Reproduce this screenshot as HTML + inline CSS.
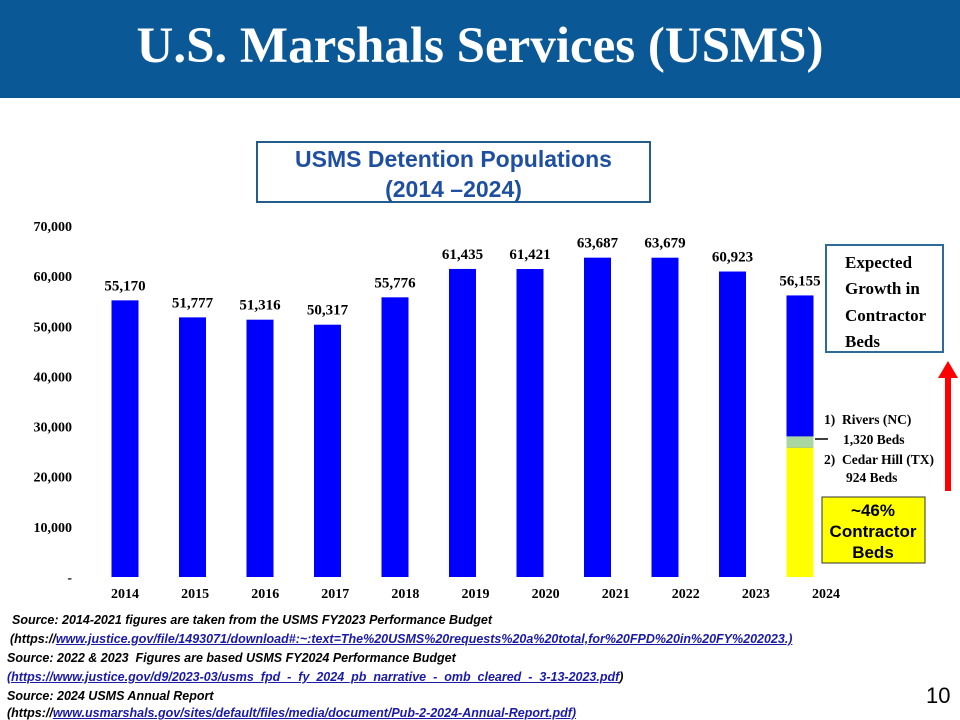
<!DOCTYPE html>
<html><head><meta charset="utf-8"><style>
body{margin:0;width:960px;height:720px;background:#fff;position:relative;overflow:hidden;font-family:"Liberation Sans",sans-serif}
.hdr{position:absolute;left:0;top:0;width:960px;height:98px;background:#0b5896;color:#fff;font:bold 51px "Liberation Serif",serif;text-align:center;line-height:92px}
.ct{position:absolute;left:256px;top:141px;width:395px;height:62px;border:2px solid #235d8c;color:#1f4fa0;font:bold 23px "Liberation Sans",sans-serif;text-align:center;line-height:30px;padding-top:1px;box-sizing:border-box}
.src{position:absolute;font:italic bold 12.5px "Liberation Sans",sans-serif;color:#000;white-space:nowrap}
.src a{color:#1a1aa6;text-decoration:underline}
</style></head><body>
<div class="hdr">U.S. Marshals Services (USMS)</div>
<div class="ct">USMS Detention Populations<br>(2014 –2024)</div>
<svg id="chart" width="960" height="720" style="position:absolute;left:0;top:0"></svg>
<div class="src" style="left:12px;top:613px">Source: 2014-2021 figures are taken from the USMS FY2023 Performance Budget</div>
<div class="src" style="left:10px;top:632px">(https://<a>www.justice.gov/file/1493071/download#:~:text=The%20USMS%20requests%20a%20total,for%20FPD%20in%20FY%202023.)</a></div>
<div class="src" style="left:7px;top:651px">Source: 2022 &amp; 2023&nbsp; Figures are based USMS FY2024 Performance Budget</div>
<div class="src" style="left:7px;top:670px"><a>(https://www.justice.gov/d9/2023-03/usms_fpd_-_fy_2024_pb_narrative_-_omb_cleared_-_3-13-2023.pdf</a>)</div>
<div class="src" style="left:7px;top:689px">Source: 2024 USMS Annual Report</div>
<div class="src" style="left:7px;top:707px;line-height:13px">(https://<a>www.usmarshals.gov/sites/default/files/media/document/Pub-2-2024-Annual-Report.pdf)</a></div>
<div style="position:absolute;left:926px;top:683px;font:22px 'Liberation Sans',sans-serif">10</div>
<script>
const years=["2014","2015","2016","2017","2018","2019","2020","2021","2022","2023","2024"];
const values=[55170,51777,51316,50317,55776,61435,61421,63687,63679,60923,56155];
const labels=["55,170","51,777","51,316","50,317","55,776","61,435","61,421","63,687","63,679","60,923","56,155"];
const contractor2024=25800;
const newBeds2024=2244;
const ticks=[0,10000,20000,30000,40000,50000,60000,70000];
const tickLabels=["-","10,000","20,000","30,000","40,000","50,000","60,000","70,000"];
const svg=document.getElementById('chart');const NS="http://www.w3.org/2000/svg";
const y=v=>577-v*(351/70000);
const x=i=>125+i*67.5;
const xl=i=>125+i*70.1;
function mk(t,a){const e=document.createElementNS(NS,t);for(const k in a)e.setAttribute(k,a[k]);svg.appendChild(e);return e;}
ticks.forEach((t,i)=>{const e=mk('text',{x:72,y:y(t)+5,'text-anchor':'end','font-family':'Liberation Serif,serif','font-weight':'bold','font-size':14});e.textContent=tickLabels[i];

});
years.forEach((yr,i)=>{
 const cx=x(i),w=27;
 const last=i===years.length-1;
 const b=mk('rect',{x:cx-w/2,y:y(values[i]),width:w,height:y(0)-y(values[i]),fill:'#0000ff'});
 
 
 if(last){
  const yl=mk('rect',{x:cx-w/2,y:y(contractor2024),width:w,height:y(0)-y(contractor2024),fill:'#ffff00'});
  
  
  const g=mk('rect',{x:cx-w/2,y:y(contractor2024+newBeds2024),width:w,height:y(contractor2024)-y(contractor2024+newBeds2024),fill:'#a8d8a0'});
  
  
 }
 const l=mk('text',{x:cx,y:y(values[i])-10,'text-anchor':'middle','font-family':'Liberation Serif,serif','font-weight':'bold','font-size':15});
 l.textContent=labels[i];
 
 
 const c=mk('text',{x:xl(i),y:598,'text-anchor':'middle','font-family':'Liberation Serif,serif','font-weight':'bold','font-size':14});
 c.textContent=yr;
 
 
});
</script>
<svg width="960" height="720" style="position:absolute;left:0;top:0">
 <line x1="815" y1="439" x2="828" y2="439" stroke="#000" stroke-width="1.5"/>
 <g font-family="Liberation Serif,serif" font-weight="bold" font-size="13.5">
  <text x="824" y="424">1)&#160; Rivers (NC)</text>
  <text x="843" y="444">1,320 Beds</text>
  <text x="824" y="464">2)&#160; Cedar Hill (TX)</text>
  <text x="846" y="482">924 Beds</text>
 </g>
 <rect x="826" y="245" width="117" height="107" fill="#fff" stroke="#2e6a9a" stroke-width="2"/>
 <g font-family="Liberation Serif,serif" font-weight="bold" font-size="17">
  <text x="845" y="268">Expected</text><text x="845" y="294">Growth in</text>
  <text x="845" y="321">Contractor</text><text x="845" y="347">Beds</text>
 </g>
 <rect x="945" y="377" width="6" height="114" fill="#ff0000"/>
 <polygon points="938,378 958,378 948,361" fill="#ff0000"/>
 <rect x="822" y="497" width="103" height="66" fill="#ffff00" stroke="#333" stroke-width="1"/>
 <g font-family="Liberation Sans,sans-serif" font-weight="bold" font-size="17" text-anchor="middle">
  <text x="873" y="516">~46%</text><text x="873" y="537">Contractor</text><text x="873" y="558">Beds</text>
 </g>
</svg>
</body></html>
